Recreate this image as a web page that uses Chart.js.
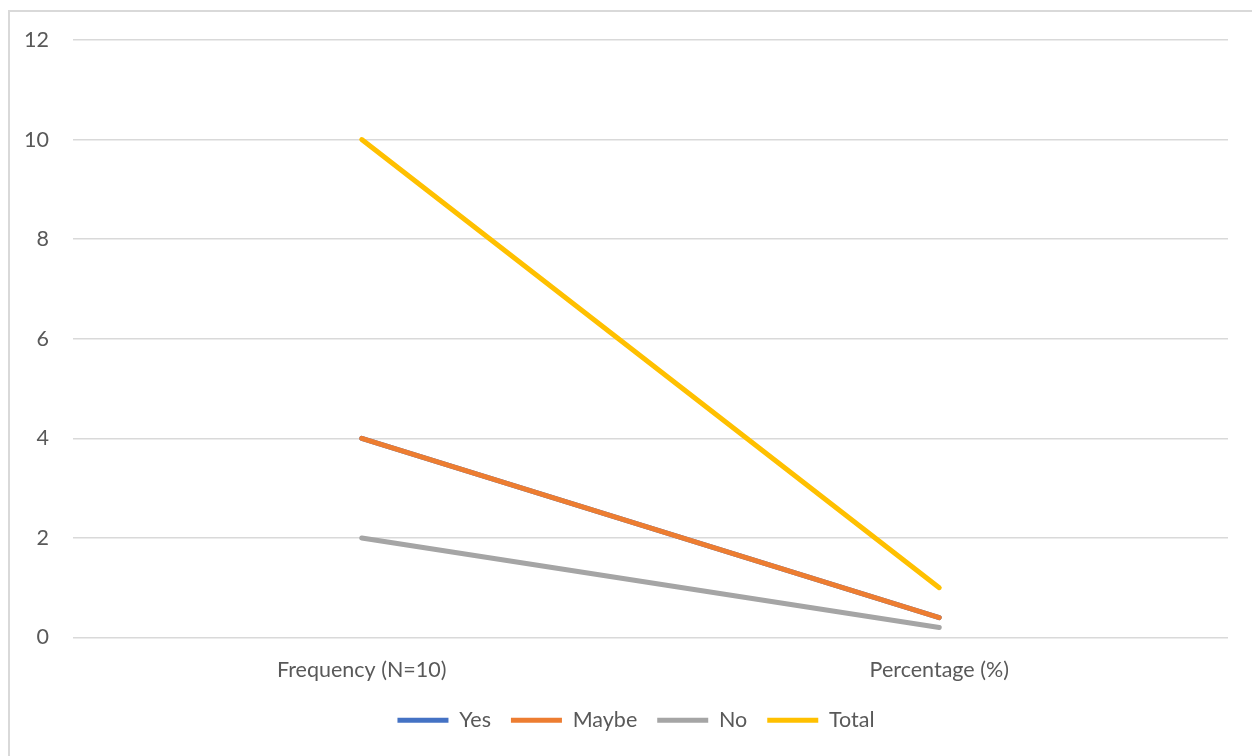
<!DOCTYPE html>
<html>
<head>
<meta charset="utf-8">
<script src="https://cdn.jsdelivr.net/npm/chart.js@4/dist/chart.umd.min.js"></script>
<style>
  html, body { margin: 0; padding: 0; background: #fff; overflow: hidden; }
  #frame {
    position: absolute; left: 8px; top: 10px;
    width: 1300px; height: 800px;
    border: 2px solid #d9d9d9; box-sizing: border-box;
  }
  #wrap { position: absolute; left: 0; top: 0; width: 1252px; height: 756px; }
</style>
</head>
<body>
<div id="frame"></div>
<div id="wrap"><canvas id="chart"></canvas></div>
<script>
// Categories and series
const categories = ['Frequency (N=10)', 'Percentage (%)'];
const yesValues = [4, 0.4];
const maybeValues = [4, 0.4];
const noValues = [2, 0.2];
const totalValues = [10, 1];
const yTicks = [0, 2, 4, 6, 8, 10, 12];

const textColor = '#595959';
const gridColor = '#d9d9d9';
const fontFamily = 'Lato, "Open Sans", sans-serif';
const fontSize = 21.5;
const padLeft = 20;

// later series sit on top, so the draw order is reversed via `order`
function lineSeries(label, data, color, order) {
    return {
        label: label,
        data: data,
        order: order,
        borderColor: color,
        backgroundColor: color,
        borderWidth: 5,
        borderCapStyle: 'round',
        borderJoinStyle: 'round',
        pointRadius: 0,
        pointStyle: 'line',
        tension: 0
    };
}

// center the legend on the framed chart rather than the padded box
const legendShift = {
    id: 'legendShift',
    afterLayout(chart) {
        const lg = chart.legend;
        const mid = (chart.width + padLeft) / 2;
        const dx = mid - (lg.left + lg.right) / 2;
        lg.left += dx;
        lg.right += dx;
    }
};

new Chart(document.getElementById('chart'), {
    type: 'line',
    data: {
        labels: categories,
        datasets: [
            lineSeries('Yes', yesValues, '#4472c4', 4),
            lineSeries('Maybe', maybeValues, '#ed7d31', 3),
            lineSeries('No', noValues, '#a5a5a5', 2),
            lineSeries('Total', totalValues, '#ffc000', 1)
        ]
    },
    plugins: [legendShift],
    options: {
        responsive: true,
        maintainAspectRatio: false,
        animation: false,
        layout: {
            padding: { left: padLeft, right: 24, top: 40, bottom: 15 }
        },
        plugins: {
            legend: {
                position: 'bottom',
                labels: {
                    color: textColor,
                    font: { family: fontFamily, size: fontSize },
                    usePointStyle: true,
                    pointStyleWidth: 51,
                    boxHeight: 4,
                    padding: 20,
                    sort: (a, b) => a.datasetIndex - b.datasetIndex
                }
            },
            tooltip: { enabled: false }
        },
        scales: {
            x: {
                offset: true,
                grid: { display: false, drawTicks: false },
                border: { display: false },
                ticks: {
                    color: textColor,
                    font: { family: fontFamily, size: fontSize },
                    padding: 20,
                    maxRotation: 0
                },
                afterFit: (scale) => { scale.height = 52; }
            },
            y: {
                min: 0,
                max: 12,
                afterBuildTicks: (scale) => {
                    scale.ticks = yTicks.map(v => ({ value: v }));
                },
                grid: { color: gridColor, lineWidth: 1.5, drawTicks: false },
                border: { display: false },
                ticks: {
                    color: textColor,
                    font: { family: fontFamily, size: fontSize },
                    padding: 24
                },
                afterFit: (scale) => { scale.width = 53; }
            }
        }
    }
});
</script>
</body>
</html>
